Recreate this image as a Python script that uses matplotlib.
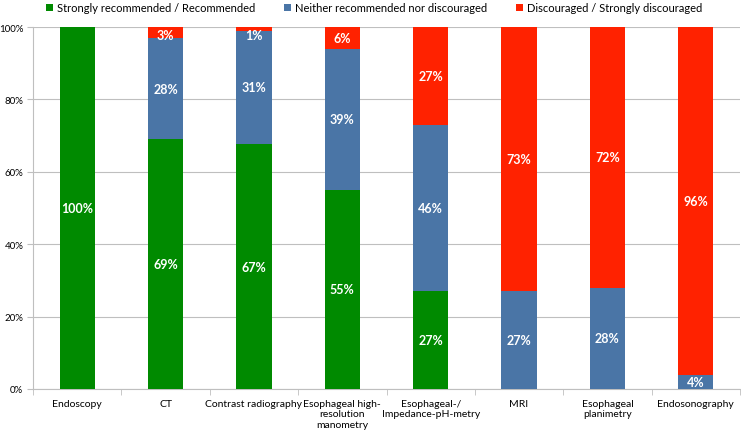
import matplotlib
matplotlib.use("Agg")
import matplotlib.pyplot as plt
import numpy as np

categories = ["Endoscopy", "CT", "Contrast radiography",
              "Esophageal high-\nresolution\nmanometry",
              "Esophageal-/\nImpedance-pH-metry", "MRI",
              "Esophageal\nplanimetry", "Endosonography"]
recommended = [100, 69, 67, 55, 27, 0, 0, 0]
neutral = [0, 28, 31, 39, 46, 27, 28, 4]
discouraged = [0, 3, 1, 6, 27, 73, 72, 96]
series_names = ["Strongly recommended / Recommended",
                "Neither recommended nor discouraged",
                "Discouraged / Strongly discouraged"]
colors = ["#008a00", "#4a75a6", "#ff2200"]

plt.rcParams['font.family'] = ['Lato', 'DejaVu Sans']

fig = plt.figure(figsize=(7.41, 4.35), dpi=100)
ax = fig.add_axes([33/741, 45/435, 707/741, 362/435])

data = np.array([recommended, neutral, discouraged], dtype=float)
totals = data.sum(axis=0)
pct = data / totals * 100
x = np.arange(len(categories))
bottom = np.zeros(len(categories))
handles = []
for i in range(3):
    h = ax.bar(x, pct[i], bottom=bottom, width=0.4, color=colors[i],
               label=series_names[i], zorder=3)
    handles.append(h)
    for j in range(len(categories)):
        if data[i, j] > 0:
            top = bottom[j] + pct[i, j]
            ly = min(bottom[j] + pct[i, j] / 2, top - 2.2)
            ax.text(x[j], ly, f"{int(data[i, j])}%",
                    ha="center", va="center", color="white",
                    fontsize=9, fontweight="bold", zorder=4)
    bottom += pct[i]

ax.set_xlim(-0.5, len(categories) - 0.5)
ax.set_ylim(0, 100)
ax.set_yticks(np.arange(0, 101, 20))
ax.set_yticklabels([f"{v}%" for v in range(0, 101, 20)], fontsize=7)
ax.yaxis.grid(True, color="#bfbfbf", linewidth=0.8, zorder=0)
ax.set_xticks(x)
ax.set_xticklabels(categories, fontsize=7.5, linespacing=1.25)
ax.set_xticks(np.arange(-0.5, len(categories), 1), minor=True)
ax.tick_params(axis="x", which="major", length=0, pad=7)
ax.tick_params(axis="x", which="minor", length=4, color="#bfbfbf")
ax.tick_params(axis="y", length=4, color="#bfbfbf", pad=3)
for s in ["top", "right"]:
    ax.spines[s].set_visible(False)
for s in ["left", "bottom"]:
    ax.spines[s].set_color("#bfbfbf")

fig.legend(handles=handles, loc="upper center", ncol=3, frameon=False,
           fontsize=8, handlelength=0.6, handleheight=0.6,
           handletextpad=0.4, columnspacing=2.6,
           bbox_to_anchor=(0.505, 1.015))

fig.savefig("out.png", dpi=100)
